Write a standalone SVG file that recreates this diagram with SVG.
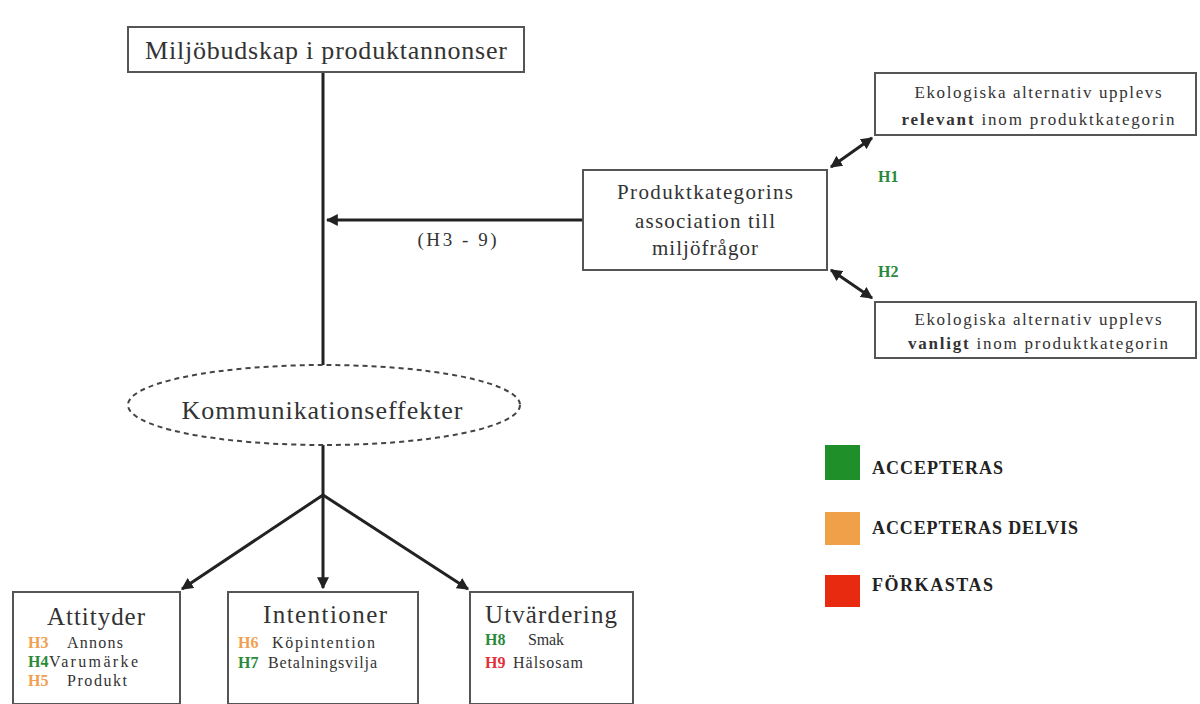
<svg xmlns="http://www.w3.org/2000/svg" width="1200" height="704" viewBox="0 0 1200 704">
<defs>
<style>
.box{fill:#fff;stroke:#555;stroke-width:2}
.t{font-family:"Liberation Serif",serif;fill:#333;text-anchor:middle}
.l{font-family:"Liberation Serif",serif;fill:#333;font-size:16px}
.g{fill:#2a8a3a;font-weight:bold}
.o{fill:#f0a050;font-weight:bold}
.r{fill:#e0303a;font-weight:bold}
.c{stroke:#222;stroke-width:3;fill:none}
.leg{font-family:"Liberation Serif",serif;font-weight:bold;font-size:18px;fill:#222}
</style>
<marker id="a" viewBox="0 0 10 10" refX="9" refY="5" markerWidth="4" markerHeight="4" orient="auto-start-reverse"><path d="M0,0L10,5L0,10z" fill="#222"/></marker>
</defs>
<g id="connectors">
<line class="c" x1="323" y1="72" x2="323" y2="365"/>
<line class="c" x1="583" y1="220" x2="327" y2="220" marker-end="url(#a)"/>
<text class="t" x="457" y="246" font-size="19" fill="#666" textLength="79">(H3 - 9)</text>
<line class="c" x1="831" y1="167" x2="872" y2="138" marker-start="url(#a)" marker-end="url(#a)"/>
<line class="c" x1="831" y1="270" x2="872" y2="298" marker-start="url(#a)" marker-end="url(#a)"/>
<text class="l g" x="878" y="182" font-size="16">H1</text>
<text class="l g" x="878" y="277" font-size="16">H2</text>
<line class="c" x1="323" y1="445" x2="323" y2="495"/>
<line class="c" x1="323" y1="495" x2="323" y2="588" marker-end="url(#a)"/>
<line class="c" x1="323" y1="495" x2="182" y2="589" marker-end="url(#a)"/>
<line class="c" x1="323" y1="495" x2="468" y2="589" marker-end="url(#a)"/>
</g>
<g id="n-top">
<rect class="box" x="128" y="27" width="396" height="45"/>
<text class="t" x="326" y="59" font-size="26" textLength="362">Miljöbudskap i produktannonser</text>
</g>
<g id="n-kat">
<rect class="box" x="583" y="170" width="244" height="100"/>
<text class="t" x="705" y="199" font-size="21" textLength="176">Produktkategorins</text>
<text class="t" x="705" y="228" font-size="21" textLength="140">association till</text>
<text class="t" x="705" y="255" font-size="21" textLength="106">miljöfrågor</text>
</g>
<g id="n-rel">
<rect class="box" x="875" y="73" width="321" height="62"/>
<text class="t" x="1038" y="98" font-size="17" textLength="247">Ekologiska alternativ upplevs</text>
<text class="t" x="1038" y="125" font-size="17" textLength="273"><tspan font-weight="bold">relevant</tspan> inom produktkategorin</text>
</g>
<g id="n-van">
<rect class="box" x="875" y="302" width="321" height="56"/>
<text class="t" x="1038" y="325" font-size="17" textLength="247">Ekologiska alternativ upplevs</text>
<text class="t" x="1038" y="349" font-size="17" textLength="260"><tspan font-weight="bold">vanligt</tspan> inom produktkategorin</text>
</g>
<g id="n-komm">
<ellipse cx="324" cy="405" rx="196" ry="40" fill="#fff" stroke="#444" stroke-width="2" stroke-dasharray="5,4"/>
<text class="t" x="322" y="419" font-size="26" textLength="281">Kommunikationseffekter</text>
</g>
<g id="n-att">
<rect class="box" x="13" y="592" width="167" height="112"/>
<text class="t" x="96" y="625" font-size="25" textLength="98">Attityder</text>
<text class="l o" x="28" y="648">H3</text>
<text class="l" x="67" y="648" textLength="56">Annons</text>
<text class="l g" x="28" y="667">H4</text>
<text class="l" x="49" y="667" textLength="89">Varumärke</text>
<text class="l o" x="28" y="686">H5</text>
<text class="l" x="67" y="686" textLength="60">Produkt</text>
</g>
<g id="n-int">
<rect class="box" x="228" y="592" width="190" height="112"/>
<text class="t" x="325" y="623" font-size="25" textLength="124">Intentioner</text>
<text class="l o" x="238" y="648">H6</text>
<text class="l" x="272" y="648" textLength="103">Köpintention</text>
<text class="l g" x="238" y="668">H7</text>
<text class="l" x="268" y="668" textLength="109">Betalningsvilja</text>
</g>
<g id="n-utv">
<rect class="box" x="470" y="592" width="163" height="112"/>
<text class="t" x="551" y="623" font-size="25" textLength="132">Utvärdering</text>
<text class="l g" x="485" y="645">H8</text>
<text class="l" x="528" y="645" textLength="36">Smak</text>
<text class="l r" x="485" y="668">H9</text>
<text class="l" x="513" y="668" textLength="70">Hälsosam</text>
</g>
<g id="legend">
<rect x="825" y="445" width="35" height="35" fill="#1f8f2a"/>
<text class="leg" x="872" y="474" textLength="131">ACCEPTERAS</text>
<rect x="825" y="512" width="35" height="33" fill="#f0a048"/>
<text class="leg" x="872" y="534" textLength="206">ACCEPTERAS DELVIS</text>
<rect x="825" y="575" width="35" height="32" fill="#e82a10"/>
<text class="leg" x="872" y="591" textLength="121">FÖRKASTAS</text>
</g>
</svg>
